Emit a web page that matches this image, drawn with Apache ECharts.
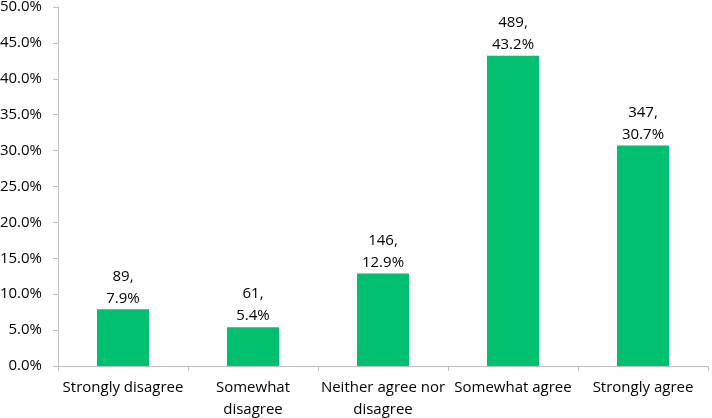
<!DOCTYPE html>
<html><head><meta charset="utf-8">
<script src="https://cdn.jsdelivr.net/npm/echarts@6/dist/echarts.min.js"></script>
<style>html,body{margin:0;padding:0;background:#fff}#c{width:712px;height:418px}</style>
</head><body><div id="c"></div>
<script>
const categories = ['Strongly disagree', 'Somewhat\ndisagree', 'Neither agree nor\ndisagree', 'Somewhat agree', 'Strongly agree'];
const percents = [7.9, 5.4, 12.9, 43.2, 30.7];
const counts = [89, 61, 146, 489, 347];

const chart = echarts.init(document.getElementById('c'), null, {renderer: 'canvas'});
const font = 'Open Sans';
chart.setOption({
  animation: false,
  grid: {left: 58, right: 4, top: 7, bottom: 52, containLabel: false, outerBoundsMode: 'none'},
  xAxis: {
    type: 'category',
    data: categories,
    axisLine: {lineStyle: {color: '#bfbfbf'}},
    axisTick: {show: true, length: 5, lineStyle: {color: '#bfbfbf'}},
    axisLabel: {color: '#000', fontFamily: font, fontSize: 15, interval: 0, margin: 11, lineHeight: 22}
  },
  yAxis: {
    type: 'value', min: 0, max: 50, interval: 5,
    splitLine: {show: false},
    axisLine: {show: true, lineStyle: {color: '#bfbfbf'}},
    axisTick: {show: true, length: 5, lineStyle: {color: '#bfbfbf'}},
    axisLabel: {color: '#000', fontFamily: font, fontSize: 15, margin: 16, formatter: v => v.toFixed(1) + '%'}
  },
  series: [{
    type: 'bar',
    data: percents,
    barWidth: 52,
    itemStyle: {color: '#00BF6F'},
    label: {
      show: true, position: 'top', distance: 0,
      color: '#000', fontFamily: font, fontSize: 15, lineHeight: 22,
      formatter: p => counts[p.dataIndex] + ',\n' + percents[p.dataIndex].toFixed(1) + '%'
    }
  }]
});
</script></body></html>
